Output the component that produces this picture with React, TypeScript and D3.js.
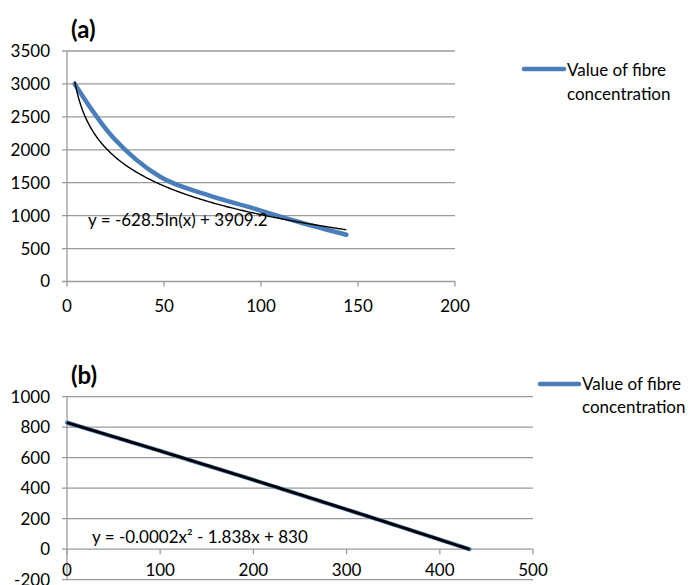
import React from "react";
import * as d3 from "d3";

// ---- Chart (a) data ----
const timeA = [4, 24, 48, 72, 96, 120, 144];
const fibreA = [3000, 2180, 1590, 1320, 1110, 900, 710];
const trendA = [-628.5, 3909.2]; // y = a*ln(x) + b
const xTicksA = [0, 50, 100, 150, 200];
const yTicksA = [0, 500, 1000, 1500, 2000, 2500, 3000, 3500];
const eqA = "y = -628.5ln(x) + 3909.2";

// ---- Chart (b) data ----
const timeB = [0, 48, 96, 144, 192, 240, 288, 336, 384, 432];
const fibreB = [830, 741, 652, 561, 470, 377, 284, 190, 95, 0];
const trendB = [-0.0002, -1.838, 830]; // y = a*x^2 + b*x + c
const xTicksB = [0, 100, 200, 300, 400, 500];
const yTicksB = [-200, 0, 200, 400, 600, 800, 1000];
const eqB = "y = -0.0002x\u00B2 - 1.838x + 830";

const legendLabel = ["Value of fibre", "concentration"];

const FONT = "Lato, 'Open Sans', sans-serif";
const GRID = "#9a9a9a";
const BLUE = "#4a7ebb";

export default function App() {
  // scales (a)
  const xA = d3.scaleLinear().domain([0, 200]).range([67, 455]);
  const yA = d3.scaleLinear().domain([0, 3500]).range([281.5, 51]);
  // scales (b)
  const xB = d3.scaleLinear().domain([0, 500]).range([67, 533]);
  const yB = d3.scaleLinear().domain([-200, 1000]).range([579.7, 396.7]);

  const lineA = d3
    .line<[number, number]>()
    .x((d) => xA(d[0]))
    .y((d) => yA(d[1]))
    .curve(d3.curveCardinal.tension(0));
  const blueA = lineA(timeA.map((t, i) => [t, fibreA[i]] as [number, number]));

  const trendPtsA: [number, number][] = d3
    .range(timeA[0], timeA[timeA.length - 1] + 0.01, 0.5)
    .map((t) => [t, trendA[0] * Math.log(t) + trendA[1]]);
  const blackA = d3
    .line<[number, number]>()
    .x((d) => xA(d[0]))
    .y((d) => yA(d[1]))(trendPtsA);

  const lineB = d3
    .line<[number, number]>()
    .x((d) => xB(d[0]))
    .y((d) => yB(d[1]));
  const blueB = lineB(timeB.map((t, i) => [t, fibreB[i]] as [number, number]));
  const trendPtsB: [number, number][] = d3
    .range(timeB[0], timeB[timeB.length - 1] + 0.01, 4)
    .map((t) => [t, trendB[0] * t * t + trendB[1] * t + trendB[2]]);
  const blackB = lineB(trendPtsB);

  const fs = 17;

  return (
    <svg
      width={691}
      height={585}
      style={{ position: "absolute", left: 0, top: 0, background: "#fff" }}
      fontFamily={FONT}
    >
      {/* ===== Chart (a) ===== */}
      <text x={71} y={38} fontSize={24} fontWeight="bold" fill="#000">
        (a)
      </text>
      {yTicksA.map((v) => (
        <g key={"ya" + v}>
          <line x1={62} x2={455} y1={yA(v)} y2={yA(v)} stroke={GRID} strokeWidth={1.3} />
          <text x={50} y={yA(v)} dy="0.35em" textAnchor="end" fontSize={fs} fill="#000">
            {v}
          </text>
        </g>
      ))}
      <line x1={67} x2={67} y1={yA(3500)} y2={yA(0)} stroke={GRID} strokeWidth={1.3} />
      {xTicksA.map((v) => (
        <g key={"xa" + v}>
          <line x1={xA(v)} x2={xA(v)} y1={yA(0)} y2={yA(0) + 5} stroke={GRID} strokeWidth={1.3} />
          <text x={xA(v)} y={312} textAnchor="middle" fontSize={fs} fill="#000">
            {v}
          </text>
        </g>
      ))}
      <path d={blueA || ""} fill="none" stroke={BLUE} strokeWidth={4.5} strokeLinecap="round" />
      <path d={blackA || ""} fill="none" stroke="#000" strokeWidth={1.4} />
      <text x={88} y={226} fontSize={fs} fill="#000">
        {eqA}
      </text>
      {/* legend (a) */}
      <line x1={524} x2={564} y1={69} y2={69} stroke={BLUE} strokeWidth={4.5} strokeLinecap="round" />
      <text x={567} y={76} fontSize={fs} fill="#000">
        {legendLabel[0]}
      </text>
      <text x={567} y={99.5} fontSize={fs} fill="#000">
        {legendLabel[1]}
      </text>

      {/* ===== Chart (b) ===== */}
      <text x={71} y={384} fontSize={24} fontWeight="bold" fill="#000">
        (b)
      </text>
      {yTicksB.map((v) => (
        <g key={"yb" + v}>
          <line x1={62} x2={533} y1={yB(v)} y2={yB(v)} stroke={GRID} strokeWidth={1.3} />
          <text x={50} y={yB(v)} dy="0.35em" textAnchor="end" fontSize={fs} fill="#000">
            {v}
          </text>
        </g>
      ))}
      <line x1={67} x2={67} y1={yB(1000)} y2={yB(-200)} stroke={GRID} strokeWidth={1.3} />
      {xTicksB.map((v) => (
        <g key={"xb" + v}>
          <line x1={xB(v)} x2={xB(v)} y1={yB(0)} y2={yB(0) + 5} stroke={GRID} strokeWidth={1.3} />
          <text x={xB(v)} y={576} textAnchor="middle" fontSize={fs} fill="#000">
            {v}
          </text>
        </g>
      ))}
      <path d={blueB || ""} fill="none" stroke={BLUE} strokeWidth={4.2} strokeLinecap="round" />
      <path d={blackB || ""} fill="none" stroke="#000" strokeWidth={2.8} />
      <text x={92} y={543} fontSize={fs} fill="#000">
        {eqB}
      </text>
      {/* legend (b) */}
      <line x1={540} x2={579} y1={384} y2={384} stroke={BLUE} strokeWidth={4.5} strokeLinecap="round" />
      <text x={582} y={389.5} fontSize={fs} fill="#000">
        {legendLabel[0]}
      </text>
      <text x={582} y={413} fontSize={fs} fill="#000">
        {legendLabel[1]}
      </text>
    </svg>
  );
}
